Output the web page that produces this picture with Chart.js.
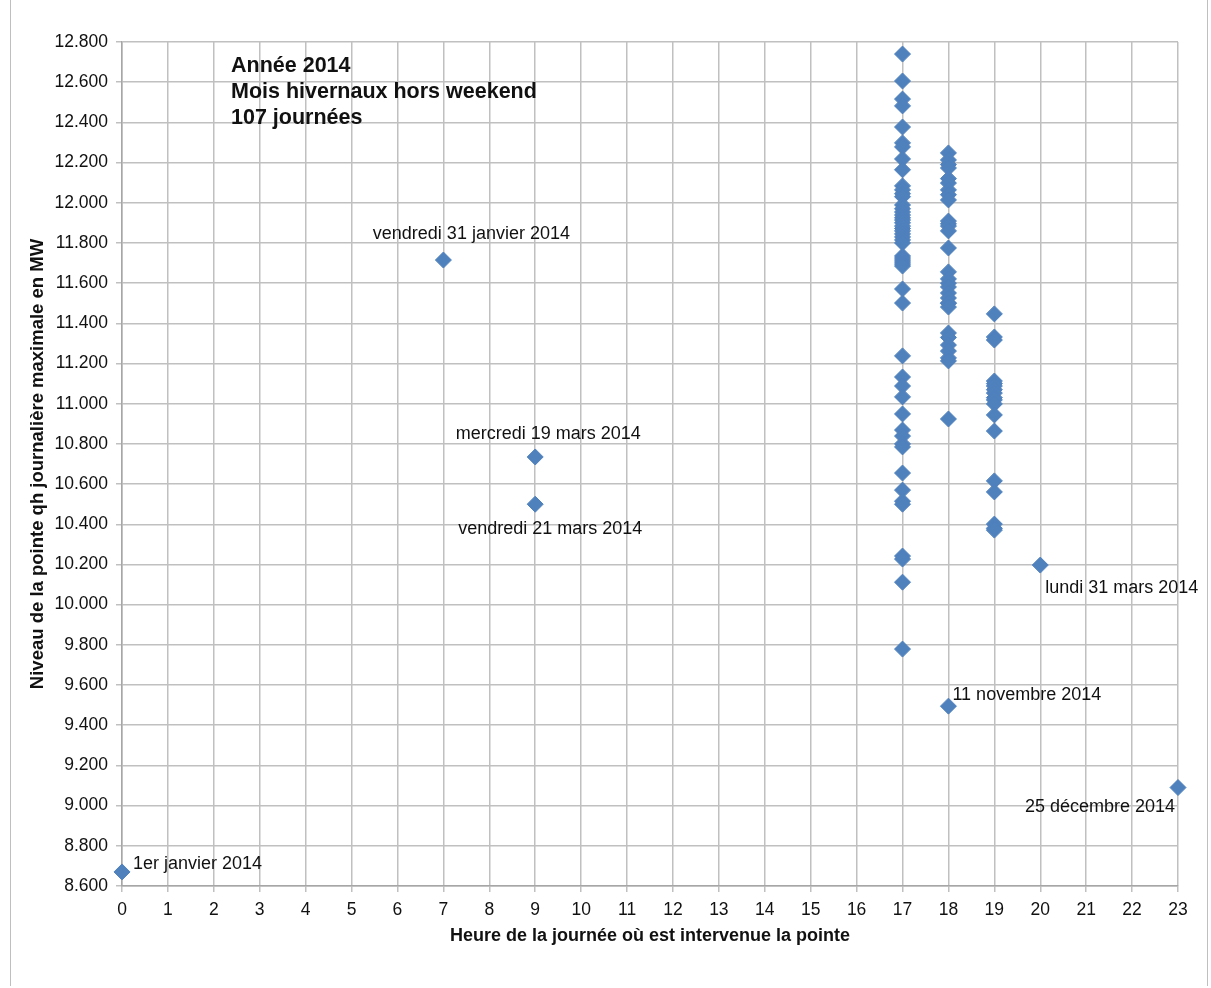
<!DOCTYPE html>
<html>
<head>
<meta charset="utf-8">
<script src="https://cdn.jsdelivr.net/npm/chart.js@4.4.0/dist/chart.umd.min.js"></script>
<style>
  html, body { margin: 0; padding: 0; background: #fff; }
  #cadre { position: absolute; left: 10px; top: 0; width: 1196px; height: 986px; border-left: 1px solid #bfbfbf; border-right: 1px solid #bfbfbf; }
  #zone { position: absolute; left: 0; top: 0; width: 1211px; height: 988px; }
</style>
</head>
<body>
<div id="cadre"></div>
<div id="zone"><canvas id="pointes" width="1211" height="988"></canvas></div>
<script>
// Heures sur l'axe des x (0 à 23)
var heures = [0, 1, 2, 3, 4, 5, 6, 7, 8, 9, 10, 11, 12, 13, 14, 15, 16, 17, 18, 19, 20, 21, 22, 23];
var graduationsY = [8600, 8800, 9000, 9200, 9400, 9600, 9800, 10000, 10200, 10400, 10600, 10800, 11000, 11200, 11400, 11600, 11800, 12000, 12200, 12400, 12600, 12800];

// Pointes journalières (MW) par heure d'apparition
var pointes17h = [12740, 12606, 12516, 12482, 12377, 12298, 12278, 12218, 12164, 12084, 12064, 12045, 12030,
    11989, 11970, 11954, 11939, 11925, 11914, 11900, 11884, 11872, 11860, 11845, 11830, 11815, 11800,
    11735, 11725, 11715, 11705, 11695, 11685, 11571, 11501, 11238, 11133, 11088, 11034, 10949, 10869,
    10839, 10800, 10785, 10655, 10570, 10515, 10500, 10242, 10227, 10112, 9779];
var pointes18h = [12248, 12213, 12190, 12173, 12120, 12098, 12064, 12040, 12014, 11909, 11895, 11884, 11860,
    11775, 11656, 11621, 11600, 11581, 11551, 11526, 11501, 11500, 11481, 11352, 11330, 11292, 11262,
    11228, 11213, 10924];
var pointes19h = [11447, 11332, 11317, 11113, 11100, 11088, 11070, 11053, 11030, 11019, 10999, 10944, 10864,
    10616, 10561, 10401, 10380, 10371];

// Journées particulières (étiquetées)
var joursHeure = [0, 7, 9, 9, 18, 20, 23];
var joursValeur = [8670, 11715, 10735, 10500, 9495, 10197, 9090];
var joursTexte = ["1er janvier 2014", "vendredi 31 janvier 2014", "mercredi 19 mars 2014", "vendredi 21 mars 2014",
    "11 novembre 2014", "lundi 31 mars 2014", "25 décembre 2014"];

var encadre = ["Année 2014", "Mois hivernaux hors weekend", "107 journées"];

var bleu = "#4f81bd";
var police = "'Liberation Sans', Arial, sans-serif";

var points = [];
pointes17h.forEach(function(v) { points.push({x: 17, y: v}); });
pointes18h.forEach(function(v) { points.push({x: 18, y: v}); });
pointes19h.forEach(function(v) { points.push({x: 19, y: v}); });

var pointsJours = joursHeure.map(function(h, i) { return {x: h, y: joursValeur[i]}; });

function formatMW(v) {
    var s = String(Math.round(v));
    return s.slice(0, s.length - 3) + "." + s.slice(s.length - 3);
}

// Position des étiquettes par rapport au point : [dx, dy, alignement]
var placeEtiquettes = [
    [11, -8, "left"], [28, -26, "center"], [13, -23, "center"], [15, 25, "center"],
    [4, -11, "left"], [5, 23, "left"], [-3, 19, "right"]
];

var etiquettes = {
    id: "etiquettes",
    afterDatasetsDraw: function(chart) {
        var ctx = chart.ctx;
        var meta = chart.getDatasetMeta(1);
        ctx.save();
        ctx.fillStyle = "#111";
        ctx.font = "18px " + police;
        ctx.textBaseline = "middle";
        meta.data.forEach(function(pt, i) {
            var p = placeEtiquettes[i];
            ctx.textAlign = p[2];
            ctx.fillText(joursTexte[i], pt.x + p[0], pt.y + p[1]);
        });
        ctx.font = "bold 21.5px " + police;
        ctx.textAlign = "left";
        encadre.forEach(function(t, i) {
            ctx.fillText(t, 231, 66 + i * 26);
        });
        ctx.restore();
    }
};

var serie = {
    pointStyle: "rectRot",
    pointRadius: 8,
    pointHoverRadius: 8,
    backgroundColor: bleu,
    borderColor: bleu,
    borderWidth: 1,
    clip: false
};

var ctx = document.getElementById("pointes").getContext("2d");
var graphique = new Chart(ctx, {
    type: "scatter",
    data: {
        datasets: [
            Object.assign({ label: "Pointes", data: points }, serie),
            Object.assign({ label: "Journées particulières", data: pointsJours }, serie)
        ]
    },
    options: {
        responsive: false,
        animation: false,
        layout: { padding: { left: 0, right: 33, top: 42, bottom: 0 } },
        plugins: {
            legend: { display: false },
            tooltip: { enabled: false }
        },
        scales: {
            x: {
                type: "linear",
                min: 0,
                max: 23,
                afterBuildTicks: function(scale) {
                    scale.ticks = heures.map(function(h) { return {value: h}; });
                },
                afterFit: function(scale) { scale.height = 102; },
                ticks: { color: "#111", font: { size: 17.5, family: police }, padding: 8, maxRotation: 0, autoSkip: false },
                grid: { color: "#c0c0c0", lineWidth: 1.5, tickLength: 6 },
                border: { color: "#a6a6a6", width: 1.5 },
                title: {
                    display: true,
                    text: "Heure de la journée où est intervenue la pointe",
                    color: "#111",
                    font: { size: 18, weight: "bold", family: police },
                    padding: { top: 0, bottom: 41 }
                }
            },
            y: {
                type: "linear",
                min: 8600,
                max: 12800,
                afterBuildTicks: function(scale) {
                    scale.ticks = graduationsY.map(function(v) { return {value: v}; });
                },
                afterFit: function(scale) { scale.width = 122; },
                ticks: {
                    color: "#111",
                    font: { size: 17.5, family: police },
                    padding: 8,
                    autoSkip: false,
                    callback: function(v) { return formatMW(v); }
                },
                grid: { color: "#c0c0c0", lineWidth: 1.5, tickLength: 6 },
                border: { color: "#a6a6a6", width: 1.5 },
                title: {
                    display: true,
                    text: "Niveau de la pointe qh journalière maximale en MW",
                    color: "#111",
                    font: { size: 18.5, weight: "bold", family: police },
                    padding: { top: 27, bottom: 0 }
                }
            }
        }
    },
    plugins: [etiquettes]
});
</script>
</body>
</html>
